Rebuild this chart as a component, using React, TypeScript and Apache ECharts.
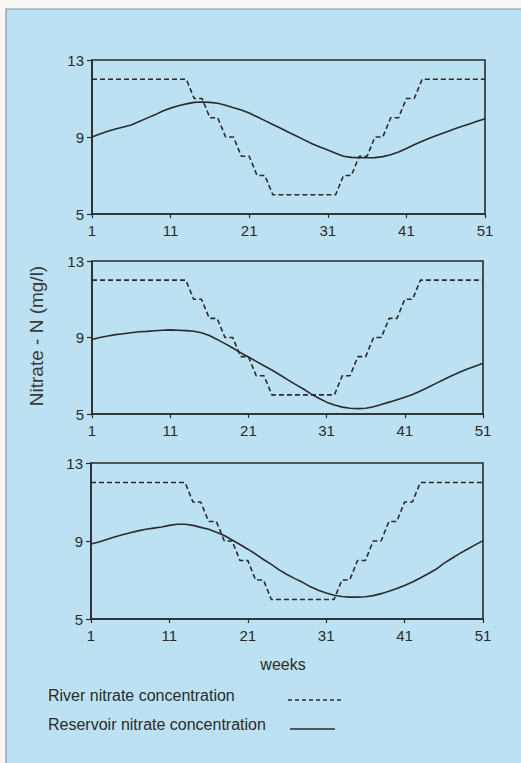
import React, { useEffect, useRef } from 'react';
import * as echarts from 'echarts';

const weeks: string[] = [];
for (let i = 1; i <= 51; i++) weeks.push(String(i));

const yTicks = [5, 9, 13];

const river = [
  12, 12, 12, 12, 12, 12, 12, 12, 12, 12, 12, 12, 12,
  11, 11, 10, 10, 9, 9, 8, 8, 7, 7,
  6, 6, 6, 6, 6, 6, 6, 6, 6,
  7, 7, 8, 8, 9, 9, 10, 10, 11, 11,
  12, 12, 12, 12, 12, 12, 12, 12, 12,
];

const reservoir1 = [
  9.0, 9.15, 9.3, 9.42, 9.52, 9.62, 9.8, 9.98, 10.15, 10.35,
  10.5, 10.62, 10.72, 10.8, 10.82, 10.8, 10.75, 10.65, 10.52, 10.4,
  10.25, 10.05, 9.85, 9.65, 9.45, 9.25, 9.05, 8.85, 8.65, 8.48,
  8.32, 8.15, 8.0, 7.94, 7.92, 7.92, 7.93, 7.98, 8.08, 8.22,
  8.4, 8.6, 8.78, 8.95, 9.1, 9.25, 9.4, 9.55, 9.68, 9.82, 9.95,
];

const reservoir2 = [
  8.9, 9.0, 9.08, 9.15, 9.2, 9.25, 9.3, 9.32, 9.35, 9.38,
  9.4, 9.38, 9.36, 9.33, 9.25, 9.1, 8.9, 8.68, 8.45, 8.2,
  7.98, 7.75, 7.52, 7.3, 7.05, 6.8, 6.55, 6.32, 6.05, 5.82,
  5.62, 5.47, 5.36, 5.3, 5.28, 5.3, 5.38, 5.5, 5.62, 5.75,
  5.88, 6.02, 6.2, 6.4, 6.6, 6.8, 7.0, 7.18, 7.35, 7.5, 7.65,
];

const reservoir3 = [
  8.85, 8.95, 9.08, 9.2, 9.32, 9.42, 9.52, 9.6, 9.66, 9.72,
  9.8, 9.86, 9.86, 9.8, 9.7, 9.6, 9.45, 9.28, 9.05, 8.82,
  8.58, 8.33, 8.05, 7.8, 7.52, 7.28, 7.07, 6.88, 6.65, 6.48,
  6.33, 6.22, 6.15, 6.12, 6.12, 6.14, 6.2, 6.3, 6.42, 6.56,
  6.72, 6.9, 7.1, 7.32, 7.55, 7.85, 8.1, 8.35, 8.58, 8.8, 9.02,
];

const reservoirs = [reservoir1, reservoir2, reservoir3];

const yAxisTitle = 'Nitrate - N (mg/l)';
const xAxisTitle = 'weeks';
const legendRiver = 'River nitrate concentration';
const legendReservoir = 'Reservoir nitrate concentration';

const FONT = '"Liberation Sans", Arial, sans-serif';
const INK = '#2b2b2b';
const BG = '#bbe1f3';

export default function App() {
  const ref = useRef<HTMLDivElement>(null);

  useEffect(() => {
    document.body.style.margin = '0';
    if (!ref.current) return;
    const chart = echarts.init(ref.current, undefined, { renderer: 'svg' });

    const grids = [
      { left: 92, top: 60, width: 393, height: 154 },
      { left: 92, top: 261, width: 391, height: 153 },
      { left: 91, top: 463, width: 392, height: 156 },
    ];

    const xAxes = grids.map((_, i) => ({
      type: 'category',
      gridIndex: i,
      data: weeks,
      boundaryGap: false,
      axisLine: { lineStyle: { color: INK, width: 1.6 } },
      axisTick: { interval: 9, length: 4, lineStyle: { color: INK, width: 1.2 } },
      axisLabel: { interval: 9, margin: 9, color: INK, fontFamily: FONT, fontSize: 15 },
      splitLine: { show: false },
    }));

    const yAxes = grids.map((_, i) => ({
      type: 'value',
      gridIndex: i,
      min: 5,
      max: 13,
      axisLine: { show: true, lineStyle: { color: INK, width: 1.6 } },
      axisTick: { show: true, customValues: yTicks, length: 5, lineStyle: { color: INK, width: 1.2 } },
      axisLabel: { customValues: yTicks, margin: 8, color: INK, fontFamily: FONT, fontSize: 15 },
      splitLine: { show: false },
    }));

    const series: any[] = [];
    grids.forEach((_, i) => {
      series.push({
        type: 'line',
        name: legendRiver,
        xAxisIndex: i,
        yAxisIndex: i,
        data: river,
        showSymbol: false,
        symbol: 'none',
        lineStyle: { color: INK, width: 1.6, type: [5, 3] },
      });
      series.push({
        type: 'line',
        name: legendReservoir,
        xAxisIndex: i,
        yAxisIndex: i,
        data: reservoirs[i],
        showSymbol: false,
        symbol: 'none',
        lineStyle: { color: INK, width: 1.6 },
      });
    });

    chart.setOption({
      animation: false,
      backgroundColor: '#f7f7f5',
      grid: grids.map((g) => ({
        ...g,
        show: true,
        backgroundColor: 'transparent',
        borderColor: INK,
        borderWidth: 1.6,
      })),
      xAxis: xAxes,
      yAxis: yAxes,
      series,
      graphic: [
        {
          type: 'rect',
          z: -10,
          silent: true,
          shape: { x: 6, y: 9, width: 600, height: 800 },
          style: { fill: BG, stroke: '#8a8f92', lineWidth: 1.2 },
        },
        {
          type: 'text',
          x: 36,
          y: 336,
          rotation: Math.PI / 2,
          style: {
            text: yAxisTitle,
            fill: '#3a3a3a',
            font: `19px ${FONT}`,
            textAlign: 'center',
            textVerticalAlign: 'middle',
          },
        },
        {
          type: 'text',
          x: 283,
          y: 664,
          style: {
            text: xAxisTitle,
            fill: INK,
            font: `16px ${FONT}`,
            textAlign: 'center',
            textVerticalAlign: 'middle',
          },
        },
        {
          type: 'text',
          x: 48,
          y: 695,
          style: {
            text: legendRiver,
            fill: INK,
            font: `16px ${FONT}`,
            textAlign: 'left',
            textVerticalAlign: 'middle',
          },
        },
        {
          type: 'line',
          shape: { x1: 288, y1: 700, x2: 344, y2: 700 },
          style: { stroke: INK, lineWidth: 1.3, lineDash: [4, 3] },
        },
        {
          type: 'text',
          x: 48,
          y: 724,
          style: {
            text: legendReservoir,
            fill: INK,
            font: `16px ${FONT}`,
            textAlign: 'left',
            textVerticalAlign: 'middle',
          },
        },
        {
          type: 'line',
          shape: { x1: 290, y1: 729, x2: 335, y2: 729 },
          style: { stroke: INK, lineWidth: 1.3 },
        },
      ],
    });

    return () => chart.dispose();
  }, []);

  return <div ref={ref} style={{ width: 521, height: 763 }} />;
}
